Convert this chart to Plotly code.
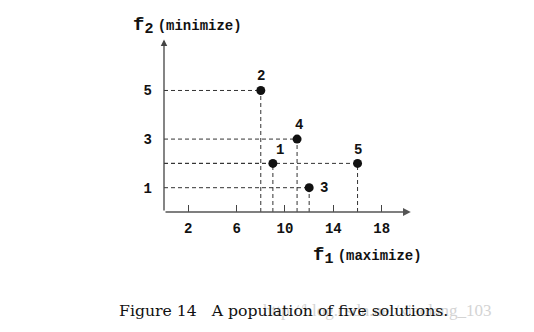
import plotly.graph_objects as go

# data
labels = ["1", "2", "3", "4", "5"]
f1 = [9, 8, 12, 11, 16]
f2 = [2, 5, 1, 3, 2]
x_ticks = [2, 6, 10, 14, 18]
y_ticks = [1, 3, 5]

fig = go.Figure()

# dashed guide lines
gx, gy = [], []
for a, b in zip(f1, f2):
    gx += [0, a, None, a, a, None]
    gy += [b, b, None, 0, b, None]
fig.add_trace(go.Scatter(x=gx, y=gy, mode="lines",
                         line=dict(color="#333333", width=1, dash="4px,3px"),
                         hoverinfo="skip", showlegend=False))

# points
fig.add_trace(go.Scatter(x=f1, y=f2, mode="markers",
                         marker=dict(color="#111111", size=9),
                         showlegend=False))

mono = "Liberation Mono"
# point labels
offsets = {"1": (7, -13), "2": (0, -14), "3": (15, 0), "4": (2, -14), "5": (0, -13)}
for lab, a, b in zip(labels, f1, f2):
    dx, dy = offsets[lab]
    fig.add_annotation(x=a, y=b, text=lab, showarrow=False, xshift=dx, yshift=-dy,
                       font=dict(family=mono, size=14, color="#111", weight=700))

# axis arrows
fig.add_annotation(x=20.4, y=0, ax=0, ay=0, xref="x", yref="y", axref="x", ayref="y",
                   showarrow=True, arrowhead=2, arrowsize=1.2, arrowwidth=1.3,
                   arrowcolor="#555", text="")
fig.add_annotation(x=0, y=7.1, ax=0, ay=0, xref="x", yref="y", axref="x", ayref="y",
                   showarrow=True, arrowhead=2, arrowsize=1.0, arrowwidth=1.3,
                   arrowcolor="#444", text="")

# axis titles
gap = "<span style='font-size:7px'>&nbsp;</span>"
fig.add_annotation(xref="paper", yref="paper", x=-0.135, y=1.06, xanchor="left", yanchor="middle",
                   text="<b><span style='font-size:19px'>f</span><sub><span style='font-size:15px'>2</span></sub>" + gap + "(minimize)</b>",
                   showarrow=False, font=dict(family=mono, size=14, color="#111"))
fig.add_annotation(xref="paper", yref="paper", x=1.05, y=-0.25, xanchor="right", yanchor="middle",
                   text="<b><span style='font-size:19px'>f</span><sub><span style='font-size:15px'>1</span></sub>" + gap + "(maximize)</b>",
                   showarrow=False, font=dict(family=mono, size=14, color="#111"))

# watermark and caption
fig.add_annotation(xref="paper", yref="paper", x=1.33, y=-0.56, xanchor="right", yanchor="middle",
                   text="http://blog.csdn.net/xiaolang_103", showarrow=False,
                   font=dict(family="Liberation Serif", size=17, color="#d4d4d4"))
fig.add_annotation(xref="paper", yref="paper", x=-0.19, y=-0.56, xanchor="left", yanchor="middle",
                   text="Figure 14&nbsp;&nbsp;&nbsp;A population of five solutions.", showarrow=False,
                   font=dict(family="DejaVu Serif", size=15.7, color="#111"))

fig.update_layout(
    width=534, height=332,
    margin=dict(l=164, r=122, t=37, b=120),
    paper_bgcolor="white", plot_bgcolor="white",
    xaxis=dict(range=[0, 20.5], tickvals=x_ticks, ticks="inside", ticklen=7,
               tickcolor="#444", showgrid=False, zeroline=False, showline=False,
               tickfont=dict(family=mono, size=14, color="#111", weight=700),
               ticklabelstandoff=6),
    yaxis=dict(range=[0, 7.2], tickvals=y_ticks, ticks="", showgrid=False,
               zeroline=False, showline=False,
               tickfont=dict(family=mono, size=14, color="#111", weight=700),
               ticklabelstandoff=11),
)

fig.write_html("out.html")
